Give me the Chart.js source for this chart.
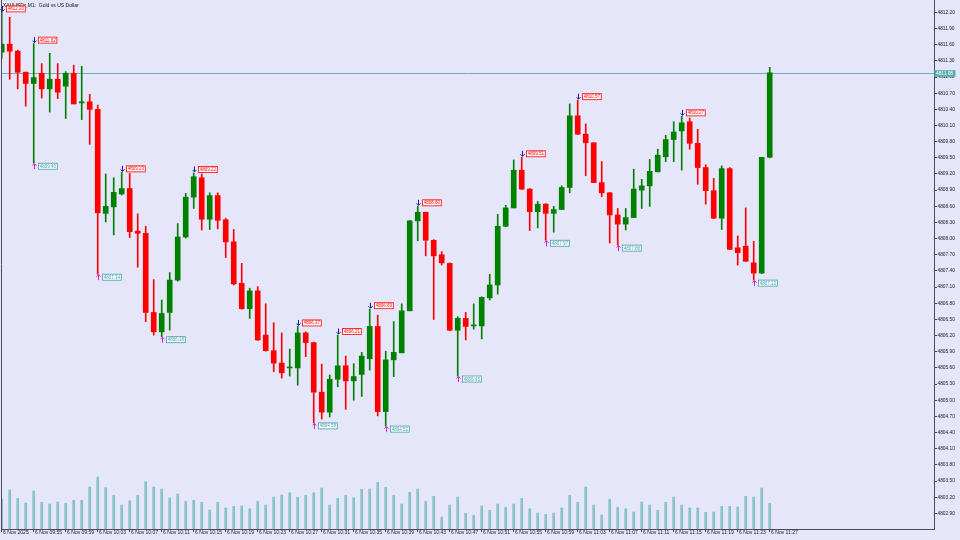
<!DOCTYPE html>
<html>
<head>
<meta charset="utf-8">
<title>XAUUSDc M1</title>
<script src="https://cdn.jsdelivr.net/npm/chart.js@4.4.1/dist/chart.umd.min.js"></script>
<style>
    html, body { margin: 0; padding: 0; background: #E6E6FA; }
    #wrap { width: 960px; height: 540px; }
</style>
</head>
<body>
<div id="wrap"><canvas id="chart" width="960" height="540"></canvas></div>
<script>
// ============================================
// Data (M1 bars, 6 Nov 2025 09:51 - 11:27)
// ============================================

const symbolTitle = 'XAUUSDc,M1:  Gold vs US Dollar';

// one time label every 4 bars
const timeLabels = [
    '6 Nov 2025', '6 Nov 09:55', '6 Nov 09:59', '6 Nov 10:03', '6 Nov 10:07',
    '6 Nov 10:11', '6 Nov 10:15', '6 Nov 10:19', '6 Nov 10:23', '6 Nov 10:27',
    '6 Nov 10:31', '6 Nov 10:35', '6 Nov 10:39', '6 Nov 10:43', '6 Nov 10:47',
    '6 Nov 10:51', '6 Nov 10:55', '6 Nov 10:59', '6 Nov 11:03', '6 Nov 11:07',
    '6 Nov 11:11', '6 Nov 11:15', '6 Nov 11:19', '6 Nov 11:23', '6 Nov 11:27'
];

const priceTicks = [
    '4812.20', '4811.90', '4811.60', '4811.30', '4811.00', '4810.70', '4810.40', '4810.10',
    '4809.80', '4809.50', '4809.20', '4808.90', '4808.60', '4808.30', '4808.00', '4807.70',
    '4807.40', '4807.10', '4806.80', '4806.50', '4806.20', '4805.90', '4805.60', '4805.30',
    '4805.00', '4804.70', '4804.40', '4804.10', '4803.80', '4803.50', '4803.20', '4802.90'
];

const opens = [
    4811.46, 4811.61, 4811.48, 4811.09, 4810.88, 4811.07, 4810.78, 4810.96, 4810.83, 4811.07,
    4810.52, 4810.54, 4810.40, 4808.47, 4808.59, 4808.83, 4808.93, 4808.14, 4808.10, 4806.63,
    4806.27, 4806.63, 4807.23, 4808.03, 4808.77, 4809.13, 4808.36, 4808.80, 4808.35, 4807.94,
    4807.17, 4806.70, 4807.03, 4806.21, 4805.92, 4805.69, 4805.60, 4805.60, 4806.25, 4806.07,
    4805.15, 4804.78, 4805.39, 4805.64, 4805.36, 4805.48, 4805.77, 4806.37, 4804.79, 4805.75,
    4805.88, 4806.66, 4808.33, 4808.49, 4807.97, 4807.70, 4807.54, 4806.30, 4806.52, 4806.38,
    4806.38, 4806.90, 4807.14, 4808.23, 4808.57, 4809.27, 4808.92, 4808.50, 4808.64, 4808.47,
    4808.54, 4808.95, 4810.28, 4809.94, 4809.78, 4809.04, 4808.85, 4808.44, 4808.27, 4808.39,
    4808.90, 4808.98, 4809.24, 4809.52, 4809.84, 4810.00, 4810.17, 4809.77, 4809.32, 4808.89,
    4808.38, 4809.30, 4807.83, 4807.86, 4807.55, 4807.36, 4809.51
];

const highs = [
    4812.20, 4812.11, 4811.50, 4811.09, 4811.62, 4811.25, 4811.44, 4811.25, 4811.10, 4811.22,
    4811.20, 4810.68, 4810.48, 4809.20, 4809.13, 4809.23, 4809.21, 4808.46, 4808.23, 4807.24,
    4806.86, 4807.37, 4808.28, 4808.84, 4809.22, 4809.20, 4808.85, 4808.85, 4808.38, 4808.17,
    4807.54, 4807.08, 4807.11, 4806.79, 4806.44, 4806.25, 4805.95, 4806.37, 4806.27, 4806.08,
    4805.67, 4805.47, 4806.21, 4805.82, 4805.68, 4805.89, 4806.69, 4806.58, 4805.91, 4806.46,
    4806.79, 4808.34, 4808.60, 4808.49, 4807.98, 4807.76, 4807.55, 4806.55, 4806.63, 4806.79,
    4806.92, 4807.34, 4808.45, 4808.62, 4809.46, 4809.51, 4808.93, 4808.69, 4808.65, 4808.60,
    4808.98, 4810.50, 4810.57, 4810.13, 4809.78, 4809.43, 4808.86, 4808.56, 4808.56, 4809.29,
    4809.10, 4809.47, 4809.66, 4809.92, 4810.17, 4810.27, 4810.24, 4810.03, 4809.37, 4809.12,
    4809.35, 4809.32, 4808.05, 4808.57, 4807.95, 4809.51, 4811.18
];

const lows = [
    4811.35, 4810.96, 4810.78, 4810.46, 4809.40, 4810.61, 4810.35, 4810.60, 4810.23, 4810.50,
    4810.21, 4809.75, 4807.34, 4808.31, 4808.07, 4808.81, 4808.02, 4807.47, 4806.46, 4806.21,
    4806.18, 4806.30, 4807.21, 4808.01, 4808.56, 4808.16, 4808.17, 4808.18, 4807.65, 4807.14,
    4806.69, 4806.52, 4806.11, 4805.91, 4805.53, 4805.41, 4805.45, 4805.28, 4805.81, 4804.58,
    4804.65, 4804.69, 4805.25, 4804.83, 4805.00, 4805.07, 4805.56, 4804.71, 4804.52, 4805.44,
    4805.88, 4806.66, 4807.96, 4807.68, 4806.50, 4807.51, 4806.29, 4805.45, 4806.12, 4806.32,
    4806.14, 4806.86, 4806.97, 4808.22, 4808.57, 4808.91, 4808.15, 4808.20, 4807.97, 4808.12,
    4808.54, 4808.85, 4809.93, 4809.17, 4809.04, 4808.78, 4807.92, 4807.88, 4808.16, 4808.39,
    4808.56, 4808.60, 4809.24, 4809.43, 4809.43, 4809.27, 4809.66, 4809.01, 4808.64, 4808.37,
    4808.17, 4807.80, 4807.51, 4807.58, 4807.23, 4807.35, 4809.50
];

const closes = [
    4811.61, 4811.48, 4811.09, 4810.88, 4810.99, 4810.78, 4810.96, 4810.72, 4811.07, 4810.50,
    4810.54, 4810.40, 4808.48, 4808.60, 4808.86, 4808.93, 4808.13, 4808.10, 4806.63, 4806.27,
    4806.61, 4807.23, 4808.03, 4808.77, 4809.15, 4808.36, 4808.80, 4808.34, 4807.94, 4807.16,
    4806.70, 4807.03, 4806.12, 4805.92, 4805.69, 4805.51, 4805.61, 4806.25, 4806.07, 4805.15,
    4804.78, 4805.39, 4805.64, 4805.36, 4805.44, 4805.82, 4806.37, 4804.79, 4805.75, 4805.89,
    4806.66, 4808.33, 4808.49, 4807.97, 4807.68, 4807.55, 4806.30, 4806.52, 4806.37, 4806.39,
    4806.91, 4807.14, 4808.23, 4808.57, 4809.27, 4808.92, 4808.50, 4808.64, 4808.47, 4808.54,
    4808.95, 4810.28, 4809.94, 4809.78, 4809.04, 4808.85, 4808.44, 4808.27, 4808.39, 4808.92,
    4808.98, 4809.25, 4809.55, 4809.84, 4809.98, 4810.15, 4809.77, 4809.32, 4808.89, 4808.38,
    4809.30, 4807.80, 4807.74, 4807.58, 4807.36, 4809.51, 4811.08
];

// tick volumes
const volumes = [
    300, 390, 307, 260, 380, 267, 250, 270, 257, 287,
    287, 420, 520, 413, 337, 240, 283, 337, 473, 420,
    400, 310, 350, 277, 287, 267, 190, 267, 210, 227,
    230, 203, 277, 240, 320, 340, 363, 317, 337, 363,
    410, 240, 307, 337, 313, 397, 400, 467, 417, 337,
    250, 367, 400, 277, 327, 120, 240, 320, 157, 137,
    230, 187, 250, 217, 250, 307, 203, 160, 147, 160,
    210, 337, 267, 420, 240, 140, 297, 217, 203, 170,
    270, 240, 187, 267, 320, 240, 210, 210, 167, 170,
    227, 227, 220, 327, 320, 410, 257
];

// fractal bars (indices into the arrays above)
const fractalHighs = [0, 4, 15, 24, 37, 42, 46, 52, 65, 72, 85];
const fractalLows = [4, 12, 20, 39, 48, 57, 68, 77, 94];

// ============================================
// Look
// ============================================

const BULL = '#008000';
const BEAR = '#FF0000';
const VOL_COLOR = '#88C3C9';
const AXIS = '#4A4A5A';
const TEXT = '#222222';
const PRICE_LINE = '#62B2B6';
const ARROW_DOWN = '#1A1AA8';
const ARROW_UP = '#D81ED8';
const LOW_TAG = '#3E9EA8';
const FONT = '"Liberation Sans", Arial, sans-serif';

const X_MIN = -0.09;
const X_MAX = X_MIN + 933 / 8;   // 8 px per bar, empty space after last bar
const Y_MIN = 4802.61;
const Y_MAX = 4812.43;
const VOL_MAX = 5290;

const bars = opens.map((o, i) => i);
const candleColors = bars.map(i => closes[i] >= opens[i] ? BULL : BEAR);
const bodies = bars.map(i => ({ x: i, y: [opens[i], closes[i]] }));
const wicks = bars.map(i => ({ x: i, y: [lows[i], highs[i]] }));
const volumeBars = bars.map(i => ({ x: i, y: volumes[i] }));

// ============================================
// Overlay: title, price line, fractal marks, price tag
// ============================================

function drawArrow(ctx, x, tipY, dir, color) {
    // dir 1 = pointing down, -1 = pointing up
    ctx.save();
    ctx.strokeStyle = color;
    ctx.lineWidth = 1;
    ctx.beginPath();
    ctx.moveTo(x, tipY - dir * 5.5);
    ctx.lineTo(x, tipY);
    ctx.moveTo(x - 2, tipY - dir * 2);
    ctx.lineTo(x, tipY);
    ctx.lineTo(x + 2, tipY - dir * 2);
    ctx.stroke();
    ctx.restore();
}

function drawTag(ctx, x, cy, text, color) {
    ctx.save();
    ctx.font = '4.5px ' + FONT;
    const w = ctx.measureText(text).width + 2.5;
    const h = 6;
    ctx.fillStyle = '#FFFFFF';
    ctx.fillRect(x, cy - h / 2, w, h);
    ctx.strokeStyle = color;
    ctx.lineWidth = 0.8;
    ctx.strokeRect(x, cy - h / 2, w, h);
    ctx.fillStyle = color;
    ctx.textAlign = 'left';
    ctx.textBaseline = 'middle';
    ctx.fillText(text, x + 1.2, cy + 0.3);
    ctx.restore();
}

const overlay = {
    id: 'mt5Overlay',
    beforeDatasetsDraw(chart) {
        const { ctx, chartArea } = chart;
        const py = Math.round(chart.scales.y.getPixelForValue(closes[closes.length - 1])) + 0.5;
        ctx.save();
        ctx.strokeStyle = PRICE_LINE;
        ctx.lineWidth = 1;
        ctx.beginPath();
        ctx.moveTo(chartArea.left, py);
        ctx.lineTo(chartArea.right, py);
        ctx.stroke();
        ctx.restore();
    },
    afterDatasetsDraw(chart) {
        const { ctx, chartArea } = chart;
        const xs = chart.scales.x;
        const ys = chart.scales.y;

        // left frame edge
        ctx.save();
        ctx.strokeStyle = AXIS;
        ctx.lineWidth = 1;
        ctx.beginPath();
        ctx.moveTo(chartArea.left + 0.5, chartArea.top);
        ctx.lineTo(chartArea.left + 0.5, chartArea.bottom);
        ctx.stroke();

        // title
        ctx.fillStyle = '#111111';
        ctx.font = '5px ' + FONT;
        ctx.textAlign = 'left';
        ctx.textBaseline = 'middle';
        ctx.fillText(symbolTitle, 3, 5.5);
        ctx.restore();

        fractalHighs.forEach(i => {
            const x = Math.round(xs.getPixelForValue(i)) + 0.5;
            const y = ys.getPixelForValue(highs[i]);
            drawArrow(ctx, x, y - 1, 1, ARROW_DOWN);
            drawTag(ctx, x + 4, y - 3.5, highs[i].toFixed(2), BEAR);
        });

        fractalLows.forEach(i => {
            const x = Math.round(xs.getPixelForValue(i)) + 0.5;
            const y = ys.getPixelForValue(lows[i]);
            drawArrow(ctx, x, y + 0.5, -1, ARROW_UP);
            drawTag(ctx, x + 4, y + 3, lows[i].toFixed(2), LOW_TAG);
        });

        // current price tag on the axis
        const last = closes[closes.length - 1];
        const py = Math.round(ys.getPixelForValue(last)) + 0.5;
        ctx.save();
        ctx.fillStyle = '#55B0B4';
        ctx.fillRect(chartArea.right + 0.5, py - 3.3, 21, 6.6);
        ctx.fillStyle = '#FFFFFF';
        ctx.font = '4.8px ' + FONT;
        ctx.textAlign = 'left';
        ctx.textBaseline = 'middle';
        ctx.fillText(last.toFixed(2), chartArea.right + 2, py + 0.3);
        ctx.restore();
    }
};

// ============================================
// Chart
// ============================================

new Chart(document.getElementById('chart'), {
    type: 'bar',
    data: {
        datasets: [
            {
                label: 'body',
                data: bodies,
                backgroundColor: candleColors,
                barThickness: 5,
                minBarLength: 1,
                grouped: false,
                order: 0
            },
            {
                label: 'wick',
                data: wicks,
                backgroundColor: candleColors,
                barThickness: 1,
                grouped: false,
                order: 1
            },
            {
                label: 'volume',
                data: volumeBars,
                yAxisID: 'yVol',
                backgroundColor: VOL_COLOR,
                barThickness: 2,
                grouped: false,
                order: 2
            }
        ]
    },
    options: {
        responsive: false,
        animation: false,
        devicePixelRatio: 1,
        layout: { padding: { left: 1, top: 0, right: 0, bottom: 0 } },
        plugins: {
            legend: { display: false },
            tooltip: { enabled: false }
        },
        scales: {
            x: {
                type: 'linear',
                position: 'bottom',
                offset: false,
                min: X_MIN,
                max: X_MAX,
                grid: { display: true, offset: false, drawOnChartArea: false, drawTicks: true, tickLength: 3, color: AXIS },
                border: { display: true, color: AXIS },
                afterBuildTicks: scale => {
                    scale.ticks = timeLabels.map((t, k) => ({ value: k * 4 }));
                },
                ticks: {
                    autoSkip: false,
                    maxRotation: 0,
                    align: 'start',
                    padding: -2,
                    color: TEXT,
                    font: { family: FONT, size: 5 },
                    callback: (v, k) => ' ' + timeLabels[k]
                },
                afterFit: scale => { scale.height = 11; }
            },
            y: {
                type: 'linear',
                position: 'right',
                min: Y_MIN,
                max: Y_MAX,
                grid: { display: true, drawOnChartArea: false, drawTicks: true, tickLength: 3, color: AXIS },
                border: { display: true, color: AXIS },
                afterBuildTicks: scale => {
                    scale.ticks = priceTicks.map(t => ({ value: parseFloat(t) }));
                },
                ticks: {
                    autoSkip: false,
                    padding: 0.5,
                    color: TEXT,
                    font: { family: FONT, size: 4.8 },
                    callback: (v, k) => priceTicks[k]
                },
                afterFit: scale => {
                    scale.width = 26;
                    scale.paddingTop = 0;
                    scale.paddingBottom = 0;
                }
            },
            yVol: {
                type: 'linear',
                display: false,
                min: 0,
                max: VOL_MAX
            }
        }
    },
    plugins: [overlay]
});
</script>
</body>
</html>
